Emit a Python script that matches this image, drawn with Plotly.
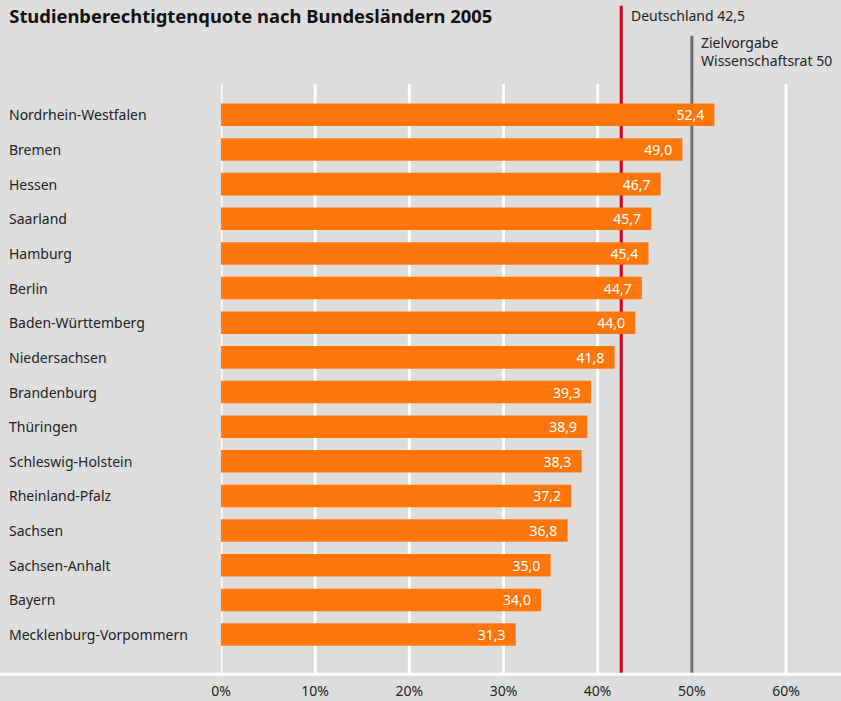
import plotly.graph_objects as go

laender = ['Nordrhein-Westfalen', 'Bremen', 'Hessen', 'Saarland', 'Hamburg', 'Berlin',
           'Baden-Württemberg', 'Niedersachsen', 'Brandenburg', 'Thüringen',
           'Schleswig-Holstein', 'Rheinland-Pfalz', 'Sachsen', 'Sachsen-Anhalt',
           'Bayern', 'Mecklenburg-Vorpommern']
quote = [52.4, 49.0, 46.7, 45.7, 45.4, 44.7, 44.0, 41.8, 39.3, 38.9, 38.3, 37.2,
         36.8, 35.0, 34.0, 31.3]
deutschland = 42.5
zielvorgabe = 50
x_ticks = [0, 10, 20, 30, 40, 50, 60]
x_ticktext = [str(v) + '%' for v in x_ticks]

FONT = 'Noto Sans'
BG = '#dddddd'
ORANGE = '#ff760d'

fig = go.Figure()

# Bars with the value inside, right aligned
fig.add_trace(go.Bar(
    x=quote,
    y=laender,
    orientation='h',
    marker=dict(color=ORANGE, line=dict(width=0)),
    width=0.65,
    text=[('%.1f' % v).replace('.', ',') + '\u00a0\u00a0' for v in quote],
    textposition='inside',
    insidetextanchor='end',
    constraintext='none',
    textfont=dict(color='white', size=14, family=FONT),
    hoverinfo='skip'
))

# Category names, left aligned at the figure edge
for name in laender:
    fig.add_annotation(
        x=-0.345, xref='paper', y=name, yref='y',
        text=name, showarrow=False, xanchor='left',
        font=dict(size=14, color='#222222', family=FONT)
    )

# White gridlines (as shapes, so the reference lines can sit on top of them)
for t in x_ticks:
    fig.add_shape(type='line', xref='x', yref='paper', x0=t, x1=t, y0=0, y1=1,
                  line=dict(color='white', width=3), layer='below')

# Reference lines
fig.add_shape(type='line', xref='x', yref='paper', x0=deutschland, x1=deutschland,
              y0=0, y1=1.133, line=dict(color='#d0021b', width=3), layer='below')
fig.add_shape(type='line', xref='x', yref='paper', x0=zielvorgabe, x1=zielvorgabe,
              y0=0, y1=1.082, line=dict(color='#6e6e6e', width=3), layer='below')
fig.add_annotation(x=deutschland, xref='x', y=1.117, yref='paper', yanchor='middle',
                   text='Deutschland ' + str(deutschland).replace('.', ','),
                   showarrow=False, xanchor='left', xshift=8,
                   font=dict(size=14, color='#222222', family=FONT))
fig.add_annotation(x=zielvorgabe, xref='x', y=1.056, yref='paper', yanchor='middle',
                   text='Zielvorgabe<br>Wissenschaftsrat ' + str(zielvorgabe),
                   showarrow=False, xanchor='left', align='left', xshift=7,
                   font=dict(size=14, color='#222222', family=FONT))

# White baseline across the full width
fig.add_shape(type='line', xref='paper', yref='paper', x0=-0.36, x1=1.01,
              y0=-0.002, y1=-0.002, line=dict(color='white', width=3))

fig.update_layout(
    width=841, height=701,
    margin=dict(l=221, r=0, t=84, b=28),
    paper_bgcolor=BG, plot_bgcolor=BG,
    title=dict(text='<b>Studienberechtigtenquote nach Bundesländern 2005</b>',
               x=0.011, xanchor='left', y=0.976, yanchor='middle',
               font=dict(size=18.4, color='#111111', family=FONT)),
    xaxis=dict(range=[0, 65.84], tickmode='array', tickvals=x_ticks,
               ticktext=x_ticktext, showgrid=False, zeroline=False,
               showline=False, ticks='', ticklabelstandoff=8,
               tickfont=dict(size=14, color='#222222', family=FONT)),
    yaxis=dict(range=[16.11, -0.89], showticklabels=False, showgrid=False,
               zeroline=False, ticks=''),
    showlegend=False,
    bargap=0.35
)

fig.write_html('out.html', config={'displayModeBar': False},
               post_script="document.body.style.margin='0';")
